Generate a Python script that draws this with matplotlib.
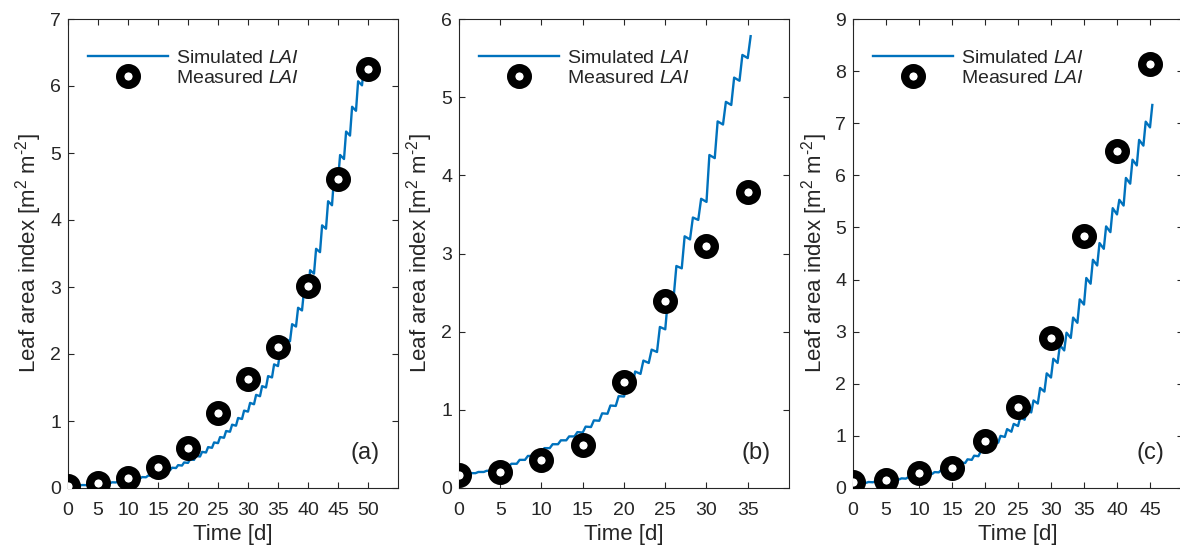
import matplotlib.pyplot as plt

plt.rcParams['font.family'] = ['Liberation Sans', 'DejaVu Sans']
plt.rcParams['mathtext.fontset'] = 'custom'
plt.rcParams['mathtext.rm'] = 'Liberation Sans'
plt.rcParams['mathtext.it'] = 'Liberation Sans:italic'

# measured LAI, every 5 days
meas_days_a = [0, 5, 10, 15, 20, 25, 30, 35, 40, 45, 50]
meas_lai_a = [0.025, 0.075, 0.15, 0.31, 0.59, 1.12, 1.63, 2.10, 3.01, 4.61, 6.26]
meas_days_b = [0, 5, 10, 15, 20, 25, 30, 35]
meas_lai_b = [0.17, 0.21, 0.36, 0.55, 1.36, 2.39, 3.09, 3.79]
meas_days_c = [0, 5, 10, 15, 20, 25, 30, 35, 40, 45]
meas_lai_c = [0.11, 0.15, 0.29, 0.38, 0.91, 1.56, 2.88, 4.83, 6.46, 8.13]

# simulated LAI: value at start of each day (trough) and after the daytime rise (peak)
sim_trough_a = [0.030, 0.034, 0.038, 0.043, 0.049, 0.056, 0.064, 0.073, 0.083, 0.095,
                0.108, 0.123, 0.140, 0.160, 0.182, 0.207, 0.235, 0.265, 0.298, 0.335,
                0.375, 0.42, 0.47, 0.53, 0.60, 0.67, 0.75, 0.84, 0.93, 1.03,
                1.14, 1.25, 1.37, 1.50, 1.65, 1.82, 2.00, 2.19, 2.41, 2.65,
                2.92, 3.20, 3.52, 3.87, 4.22, 4.59, 4.91, 5.26, 5.63, 6.01, 6.26]
sim_peak_a = [0.035, 0.039, 0.044, 0.050, 0.057, 0.065, 0.074, 0.085, 0.097, 0.110,
              0.126, 0.143, 0.163, 0.185, 0.211, 0.239, 0.270, 0.303, 0.341, 0.381,
              0.427, 0.478, 0.539, 0.61, 0.68, 0.76, 0.85, 0.945, 1.045, 1.155,
              1.27, 1.39, 1.52, 1.67, 1.845, 2.03, 2.22, 2.445, 2.69, 2.96,
              3.25, 3.57, 3.92, 4.28, 4.65, 4.97, 5.32, 5.69, 6.07, 6.30]

sim_trough_b = [0.17, 0.18, 0.19, 0.205, 0.22, 0.24, 0.27, 0.31, 0.36, 0.41,
                0.46, 0.51, 0.56, 0.61, 0.66, 0.71, 0.78, 0.86, 0.95, 1.05,
                1.17, 1.30, 1.46, 1.60, 1.74, 2.03, 2.42, 2.81, 3.18, 3.43,
                3.66, 4.22, 4.65, 4.90, 5.21, 5.50]
sim_peak_b = [0.18, 0.19, 0.205, 0.22, 0.24, 0.27, 0.31, 0.36, 0.41, 0.46,
              0.51, 0.56, 0.61, 0.66, 0.715, 0.785, 0.865, 0.955, 1.055, 1.175,
              1.31, 1.49, 1.63, 1.77, 2.06, 2.45, 2.84, 3.22, 3.46, 3.70,
              4.26, 4.69, 4.94, 5.25, 5.54, 5.78]

sim_trough_c = [0.09, 0.095, 0.10, 0.11, 0.12, 0.135, 0.15, 0.165, 0.18, 0.20,
                0.22, 0.245, 0.27, 0.30, 0.34, 0.38, 0.43, 0.48, 0.54, 0.61,
                0.68, 0.77, 0.87, 0.98, 1.08, 1.19, 1.31, 1.45, 1.62, 1.85,
                2.12, 2.40, 2.64, 2.88, 3.17, 3.52, 3.92, 4.27, 4.59, 4.91,
                5.25, 5.42, 5.84, 6.19, 6.57, 6.92]
sim_peak_c = [0.10, 0.105, 0.115, 0.125, 0.14, 0.155, 0.17, 0.185, 0.205, 0.225,
              0.25, 0.275, 0.305, 0.345, 0.385, 0.44, 0.49, 0.55, 0.62, 0.70,
              0.79, 0.89, 1.00, 1.13, 1.23, 1.36, 1.50, 1.68, 1.92, 2.20,
              2.48, 2.74, 2.98, 3.27, 3.62, 4.03, 4.38, 4.70, 5.02, 5.37,
              5.53, 5.95, 6.30, 6.68, 7.03, 7.35]

panel_labels = ['(a)', '(b)', '(c)']
x_limits = [55, 40, 50]
x_tick_max = [50, 35, 45]
y_limits = [7, 6, 9]

BLUE = '#0072BD'
AX_COL = '#262626'


def sim_curve(trough, peak):
    t, v = [], []
    for d in range(len(trough)):
        t.append(d)
        v.append(trough[d])
        if d < len(peak):
            t.append(d + 0.35)
            v.append(peak[d])
    return t, v


fig = plt.figure(figsize=(11.8, 5.56), dpi=100)
lefts = [68, 459, 853]
panels = [
    (sim_trough_a, sim_peak_a, meas_days_a, meas_lai_a),
    (sim_trough_b, sim_peak_b, meas_days_b, meas_lai_b),
    (sim_trough_c, sim_peak_c, meas_days_c, meas_lai_c),
]

for i, (trough, peak, mdays, mlai) in enumerate(panels):
    ax = fig.add_axes([lefts[i] / 1180, 68 / 556, 330 / 1180, 469 / 556])
    t, v = sim_curve(trough, peak)
    ax.plot(t, v, color=BLUE, lw=1.7, label='Simulated $\\it{LAI}$', zorder=2)
    ax.plot(mdays, mlai, 'o', ms=12, mew=6, mec='black', mfc='white',
            label='Measured $\\it{LAI}$', zorder=3)
    ax.set_xlim(0, x_limits[i])
    ax.set_ylim(0, y_limits[i])
    ax.set_xticks(range(0, x_tick_max[i] + 1, 5))
    ax.set_yticks(range(0, y_limits[i] + 1))
    ax.tick_params(direction='in', top=True, right=True, length=4.5, width=0.8,
                   labelsize=14, colors=AX_COL)
    ax.tick_params(axis='x', pad=10)
    ax.tick_params(axis='y', pad=5)
    for s in ax.spines.values():
        s.set_color(AX_COL)
        s.set_linewidth(0.8)
    ax.set_xlabel('Time [d]', fontsize=16, color=AX_COL, labelpad=4)
    ax.set_ylabel('Leaf area index [m$^{2}$ m$^{\\text{-}2}$]', fontsize=16,
                  color=AX_COL, labelpad=4)
    ax.text(0.9, 0.075, panel_labels[i], transform=ax.transAxes, fontsize=17,
            color=AX_COL, ha='center', va='center')
    leg = ax.legend(loc='upper left', bbox_to_anchor=(0.06, 0.936), frameon=False,
                    fontsize=14, handlelength=4.1, handletextpad=0.42,
                    borderaxespad=0, borderpad=0, labelspacing=0.15)
    for txt in leg.get_texts():
        txt.set_color(AX_COL)

fig.savefig('out.png', dpi=100)
